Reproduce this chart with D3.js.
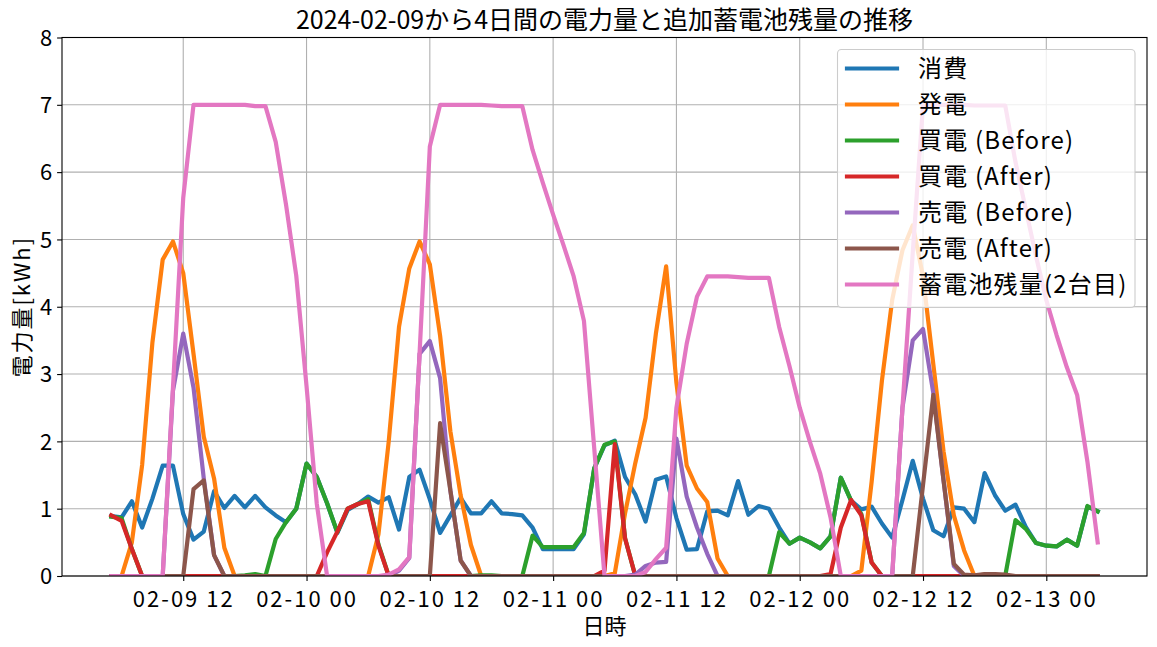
<!DOCTYPE html>
<html><head><meta charset="utf-8">
<script src="https://cdn.jsdelivr.net/npm/d3@7"></script>
<style>
html,body{margin:0;padding:0;background:#fff;}
svg{display:block;font-family:"Noto Sans CJK JP","Noto Sans",sans-serif;}
</style></head><body>
<svg id="chart" width="1157" height="647"></svg>
<script>
// ---- data (hourly, starting 2024-02-09 05:00) ----
const startTime = "2024-02-09T05:00:00Z";
const seriesNames = ["消費","発電","買電 (Before)","買電 (After)","売電 (Before)","売電 (After)","蓄電池残量(2台目)"];
const seriesColors = ["#1f77b4","#ff7f0e","#2ca02c","#d62728","#9467bd","#8c564b","#e377c2"];
const yTicks = [0,1,2,3,4,5,6,7,8];

const consumption = [0.89,0.87,1.11,0.72,1.15,1.64,1.64,0.92,0.54,0.66,1.26,1.01,1.19,1.02,1.19,1.02,0.9,0.8,1.0,1.67,1.47,1.08,0.64,0.98,1.07,1.18,1.09,1.17,0.69,1.47,1.58,1.14,0.64,0.9,1.16,0.93,0.93,1.11,0.93,0.92,0.9,0.72,0.4,0.4,0.4,0.4,0.62,1.6,1.94,2.01,1.47,1.21,0.81,1.43,1.48,0.86,0.39,0.4,0.96,0.97,0.9,1.41,0.91,1.04,1.0,0.72,0.48,0.57,0.5,0.41,0.59,1.46,1.12,0.99,1.03,0.78,0.57,1.13,1.71,1.15,0.68,0.59,1.02,1.0,0.8,1.53,1.2,0.97,1.06,0.73,0.49,0.45,0.44,0.54,0.45,1.03,0.96];
const generation = [0,0,0.5,1.65,3.47,4.7,4.97,4.5,3.3,2.07,1.45,0.42,0,0,0,0,0,0,0,0,0,0,0,0,0,0,0.62,2.0,3.7,4.57,4.97,4.63,3.57,2.15,1.2,0.46,0,0,0,0,0,0,0,0,0,0,0,0,0,0.04,0.93,1.68,2.35,3.6,4.6,2.87,1.64,1.3,1.1,0.26,0,0,0,0,0,0,0,0,0,0,0,0,0,0.08,1.4,2.9,4.1,4.84,5.21,4.45,3.15,1.85,0.9,0.38,0,0.02,0.02,0,0,0,0,0,0,0,0,0,0];
const buyBefore = [0.88,0.86,0.4,0,0,0,0,0,0,0,0,0,0,0.01,0.03,0,0.55,0.8,1.0,1.67,1.47,1.08,0.65,1.0,1.07,1.14,0.47,0,0,0,0,0,0,0,0,0,0.01,0.01,0,0,0,0.6,0.43,0.43,0.43,0.43,0.64,1.6,1.95,2.0,0.56,0,0,0,0,0,0,0,0,0,0,0,0,0,0,0.65,0.48,0.57,0.5,0.41,0.59,1.46,1.12,0.92,0.2,0,0,0,0,0,0,0,0,0,0,0,0,0,0.83,0.7,0.49,0.45,0.44,0.54,0.45,1.04,0.96];
const buyAfter = [0.9,0.82,0.4,0,0,0,0,0,0,0,0,0,0,0,0,0,0,0,0,0,0,0.35,0.66,1.0,1.07,1.11,0.45,0,0,0,0,0,0,0,0,0,0,0,0,0,0,0,0,0,0,0,0,0,0.08,1.96,0.56,0,0,0,0,0,0,0,0,0,0,0,0,0,0,0,0,0,0,0,0.03,0.72,1.13,0.9,0.2,0,0,0,0,0,0,0,0,0,0,0,0,0,0,0,0,0,0,0,0,0,0];
const sellBefore = [0,0,0,0,0,0,2.75,3.6,2.8,1.45,0.31,0,0,0,0,0,0,0,0,0,0,0,0,0,0,0,0,0,0.08,0.27,3.3,3.49,2.94,1.27,0.23,0,0,0,0,0,0,0,0,0,0,0,0,0,0,0,0,0.02,0.15,0.2,0.21,2.04,1.18,0.72,0.33,0,0,0,0,0,0,0,0,0,0,0,0,0,0,0,0,0,0,2.5,3.5,3.67,2.72,1.42,0.15,0,0,0,0,0,0,0,0,0,0,0,0,0,0];
const sellAfter = [0,0,0,0,0,0,0,0,1.29,1.42,0.31,0,0,0,0,0,0,0,0,0,0,0,0,0,0,0,0,0,0,0,0,0,2.27,1.27,0.23,0,0,0,0,0,0,0,0,0,0,0,0,0,0,0,0,0,0,0,0,0,0,0,0,0,0,0,0,0,0,0,0,0,0,0,0,0,0,0,0,0,0,0,0,1.35,2.69,1.42,0.18,0.02,0.01,0.03,0.03,0.02,0,0,0,0,0,0,0,0,0];
const battery = [0,0,0,0,0,0,2.8,5.62,7.0,7.0,7.0,7.0,7.0,7.0,6.98,6.98,6.45,5.52,4.46,2.82,1.07,0,0,0,0,0,0,0.02,0.1,0.28,3.3,6.38,7.0,7.0,7.0,7.0,7.0,6.99,6.98,6.98,6.98,6.33,5.84,5.37,4.92,4.45,3.79,1.9,0,0,0,0,0.06,0.25,0.42,2.5,3.45,4.15,4.45,4.45,4.45,4.44,4.43,4.43,4.43,3.7,3.12,2.5,1.99,1.52,0.87,0,0,0,0,0,0,2.5,4.8,7.0,7.0,7.0,7.0,7.0,6.99,6.99,6.99,6.99,6.15,5.45,4.75,4.1,3.58,3.1,2.69,1.7,0.5];

const allSeries = [consumption, generation, buyBefore, buyAfter, sellBefore, sellAfter, battery];

// ---- layout ----
const svg = d3.select("#chart");
const L = 62, R = 1147, T = 37.5, B = 576;

const t0 = new Date(startTime);
const times = consumption.map((_, i) => d3.utcHour.offset(t0, i));
const tMin = times[0], tMax = times[times.length - 1];
const span = tMax - tMin;
const x = d3.scaleUtc()
  .domain([new Date(+tMin - 0.05 * span), new Date(+tMax + 0.05 * span)])
  .range([L, R]);
const y = d3.scaleLinear().domain([0, 8]).range([B, T]);

const xTicks = x.ticks(d3.utcHour.every(12)).filter(d => d >= x.domain()[0] && d <= x.domain()[1]);

// grid
const g = svg.append("g");
g.selectAll("line.vg").data(xTicks).join("line")
  .attr("x1", d => x(d)).attr("x2", d => x(d)).attr("y1", T).attr("y2", B)
  .attr("stroke", "#b0b0b0").attr("stroke-width", 1.1);
g.selectAll("line.hg").data(yTicks).join("line")
  .attr("x1", L).attr("x2", R).attr("y1", d => y(d)).attr("y2", d => y(d))
  .attr("stroke", "#b0b0b0").attr("stroke-width", 1.1);

// lines
svg.append("clipPath").attr("id", "clip").append("rect")
  .attr("x", L).attr("y", T).attr("width", R - L).attr("height", B - T);
const line = d3.line().x((d, i) => x(times[i])).y(d => y(d));
const lg = svg.append("g").attr("clip-path", "url(#clip)");
allSeries.forEach((s, k) => {
  lg.append("path").datum(s).attr("d", line)
    .attr("fill", "none").attr("stroke", seriesColors[k])
    .attr("stroke-width", 4.2).attr("stroke-linejoin", "round").attr("stroke-linecap", "square");
});

// axes
const fmt = d3.utcFormat("%m-%d %H");
const xAxis = d3.axisBottom(x).tickValues(xTicks).tickFormat(fmt).tickSize(4.9).tickPadding(4.9);
const yAxis = d3.axisLeft(y).tickValues(yTicks).tickFormat(d3.format("d")).tickSize(4.9).tickPadding(4.9);
const xa = svg.append("g").attr("transform", `translate(0,${B})`).call(xAxis);
const ya = svg.append("g").attr("transform", `translate(${L},0)`).call(yAxis);
[xa, ya].forEach(a => {
  a.select(".domain").remove();
  a.selectAll(".tick line").attr("stroke", "#000").attr("stroke-width", 1.1);
  a.selectAll(".tick text").attr("fill", "#000").attr("font-size", 22)
    .attr("font-family", '"Noto Sans CJK JP", sans-serif');
});
xa.selectAll(".tick text").attr("dy", "0.95em").attr("letter-spacing", 2);
ya.selectAll(".tick text").attr("dy", "0.35em");

// spines
svg.append("rect").attr("x", L).attr("y", T).attr("width", R - L).attr("height", B - T)
  .attr("fill", "none").attr("stroke", "#000").attr("stroke-width", 1.1);

// title & labels
svg.append("text").attr("x", (L + R) / 2).attr("y", 29).attr("text-anchor", "middle")
  .attr("font-size", 25).attr("fill", "#000").text("2024-02-09から4日間の電力量と追加蓄電池残量の推移");
svg.append("text").attr("x", (L + R) / 2).attr("y", 634).attr("text-anchor", "middle")
  .attr("font-size", 22).attr("fill", "#000").text("日時");
svg.append("text").attr("transform", `translate(30,${(T + B) / 2}) rotate(-90)`)
  .attr("text-anchor", "middle").attr("font-size", 22).attr("letter-spacing", 2)
  .attr("fill", "#000").text("電力量[kWh]");

// legend
const legX = 837.5, legY = 49.5, legW = 297.5, legH = 258;
const leg = svg.append("g");
leg.append("rect").attr("x", legX).attr("y", legY).attr("width", legW).attr("height", legH)
  .attr("rx", 4).attr("fill", "#fff").attr("fill-opacity", 0.8)
  .attr("stroke", "#cccccc").attr("stroke-width", 1.1);
const rowY0 = 68.5, rowDY = 36;
seriesNames.forEach((name, k) => {
  const cy = rowY0 + k * rowDY;
  leg.append("line").attr("x1", 847).attr("x2", 897).attr("y1", cy).attr("y2", cy)
    .attr("stroke", seriesColors[k]).attr("stroke-width", 4.2).attr("stroke-linecap", "square");
  leg.append("text").attr("x", 918).attr("y", cy).attr("dy", "0.36em")
    .attr("font-size", 24).attr("letter-spacing", 1.2).attr("fill", "#000").text(name);
});
</script>
</body></html>
